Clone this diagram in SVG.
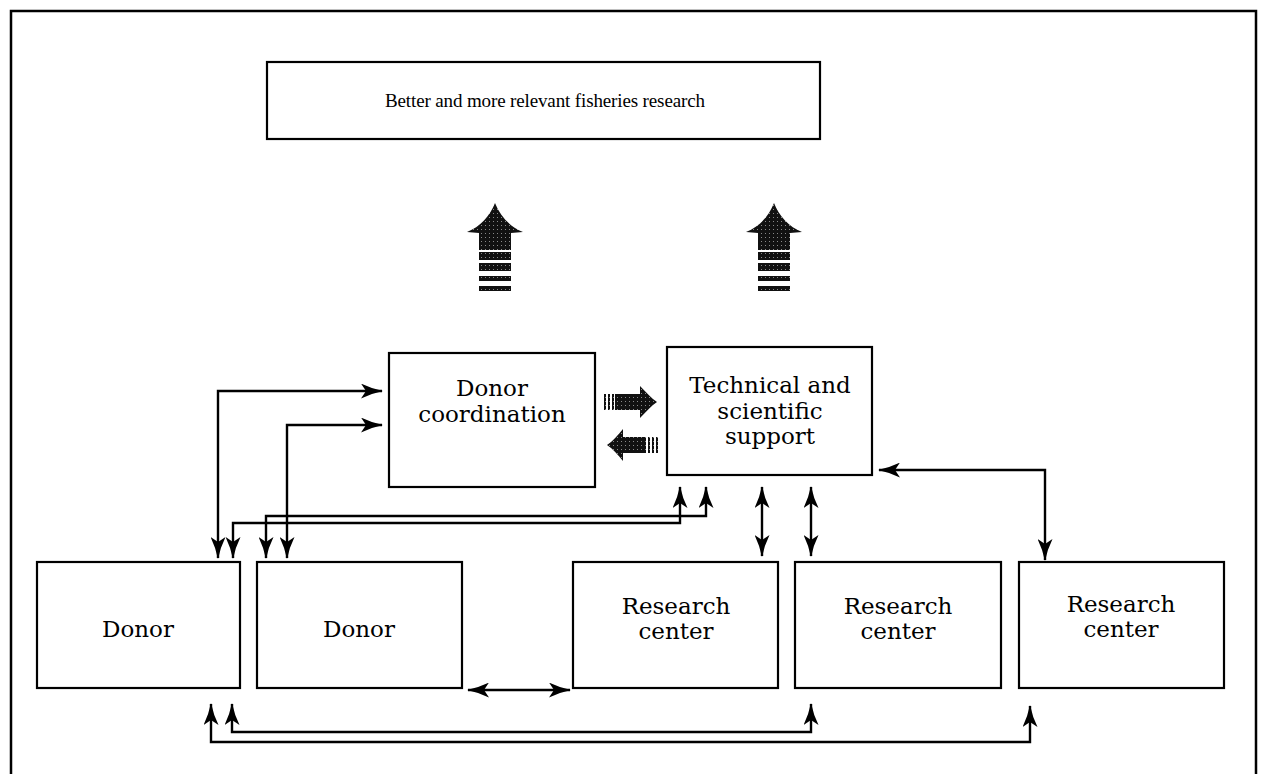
<svg xmlns="http://www.w3.org/2000/svg" width="1264" height="774" viewBox="0 0 1264 774">
<defs>
<style>
.box{fill:#fff;stroke:#000;stroke-width:2.2}
.t{font-family:"DejaVu Serif","Liberation Serif",serif;font-size:23px;fill:#000;text-anchor:middle}
.title{font-family:"Liberation Serif","DejaVu Serif",serif;font-size:19px;fill:#000;text-anchor:middle}
.c{fill:none;stroke:#000;stroke-width:2.4;marker-start:url(#ah);marker-end:url(#ah)}
.big{fill:url(#dots)}
</style>
<pattern id="dots" width="4" height="4" patternUnits="userSpaceOnUse">
<rect width="4" height="4" fill="#111"/>
<rect x="1" y="1" width="1" height="1" fill="#888"/>
</pattern>
<marker id="ah" viewBox="0 0 22 15" markerWidth="22" markerHeight="15" refX="21" refY="7.5" orient="auto-start-reverse" markerUnits="userSpaceOnUse">
<path d="M0,0 Q10,5 22,7.5 Q10,10 0,15 L5,7.5 Z" fill="#000"/>
</marker>
</defs>
<rect width="1264" height="774" fill="#fff"/>
<path d="M11,780 L11,11 L1256,11 L1256,780" fill="none" stroke="#000" stroke-width="2.5"/>

<g id="goal">
<rect class="box" x="267" y="62" width="553" height="77"/>
<text class="title" x="545" y="107" textLength="320" lengthAdjust="spacing">Better and more relevant fisheries research</text>
</g>

<g id="bigArrowLeft">
<path class="big" d="M495,203 C500,216 510,227 523,232 L511,233 L511,250 L479,250 L479,233 L467,232 C480,227 490,216 495,203 Z"/>
<rect class="big" x="479" y="252" width="32" height="8"/>
<rect class="big" x="479" y="263" width="32" height="8"/>
<rect class="big" x="479" y="276" width="32" height="5"/>
<rect class="big" x="479" y="286" width="32" height="5"/>
</g>
<g id="bigArrowRight">
<path class="big" d="M774,203 C779,216 789,227 802,232 L790,233 L790,250 L758,250 L758,233 L746,232 C759,227 769,216 774,203 Z"/>
<rect class="big" x="758" y="252" width="32" height="8"/>
<rect class="big" x="758" y="263" width="32" height="8"/>
<rect class="big" x="758" y="276" width="32" height="5"/>
<rect class="big" x="758" y="286" width="32" height="5"/>
</g>

<g id="donorCoordination">
<rect class="box" x="389" y="353" width="206" height="134"/>
<text class="t" x="492" y="396">Donor</text>
<text class="t" x="492" y="422">coordination</text>
</g>

<g id="technicalSupport">
<rect class="box" x="667" y="347" width="205" height="128"/>
<text class="t" x="770" y="393">Technical and</text>
<text class="t" x="770" y="419">scientific</text>
<text class="t" x="770" y="444">support</text>
</g>

<g id="hatchedArrows">
<rect class="big" x="604" y="394" width="2" height="16"/>
<rect class="big" x="608" y="394" width="2" height="16"/>
<rect class="big" x="612" y="394" width="2" height="16"/>
<path class="big" d="M615,394 L640,394 L640,386 C646,392 651,398 657,402 C651,406 646,412 640,418 L640,410 L615,410 Z"/>
<path class="big" d="M607,445 C613,441 618,435 623,429 L623,437 L646,437 L646,453 L623,453 L623,461 C618,455 613,449 607,445 Z"/>
<rect class="big" x="648" y="437" width="2" height="16"/>
<rect class="big" x="652" y="437" width="2" height="16"/>
<rect class="big" x="656" y="437" width="2" height="16"/>
</g>

<g id="donor1">
<rect class="box" x="37" y="562" width="203" height="126"/>
<text class="t" x="138" y="637">Donor</text>
</g>
<g id="donor2">
<rect class="box" x="257" y="562" width="205" height="126"/>
<text class="t" x="359" y="637">Donor</text>
</g>
<g id="researchCenter1">
<rect class="box" x="573" y="562" width="205" height="126"/>
<text class="t" x="676" y="614">Research</text>
<text class="t" x="676" y="639">center</text>
</g>
<g id="researchCenter2">
<rect class="box" x="795" y="562" width="206" height="126"/>
<text class="t" x="898" y="614">Research</text>
<text class="t" x="898" y="639">center</text>
</g>
<g id="researchCenter3">
<rect class="box" x="1019" y="562" width="205" height="126"/>
<text class="t" x="1121" y="612">Research</text>
<text class="t" x="1121" y="637">center</text>
</g>

<g id="connectors">
<path class="c" d="M218,558 L218,391 L382,391"/>
<path class="c" d="M287,558 L287,425 L382,425"/>
<path class="c" d="M233,558 L233,523 L680,523 L680,487"/>
<path class="c" d="M266,558 L266,516 L706,516 L706,487"/>
<path class="c" d="M762,487 L762,556"/>
<path class="c" d="M811,487 L811,556"/>
<path class="c" d="M879,470 L1045,470 L1045,560"/>
<path class="c" d="M468,690 L570,690"/>
<path class="c" d="M211,704 L211,742 L1030,742 L1030,706"/>
<path class="c" d="M232,704 L232,732 L811,732 L811,704"/>
</g>
</svg>
